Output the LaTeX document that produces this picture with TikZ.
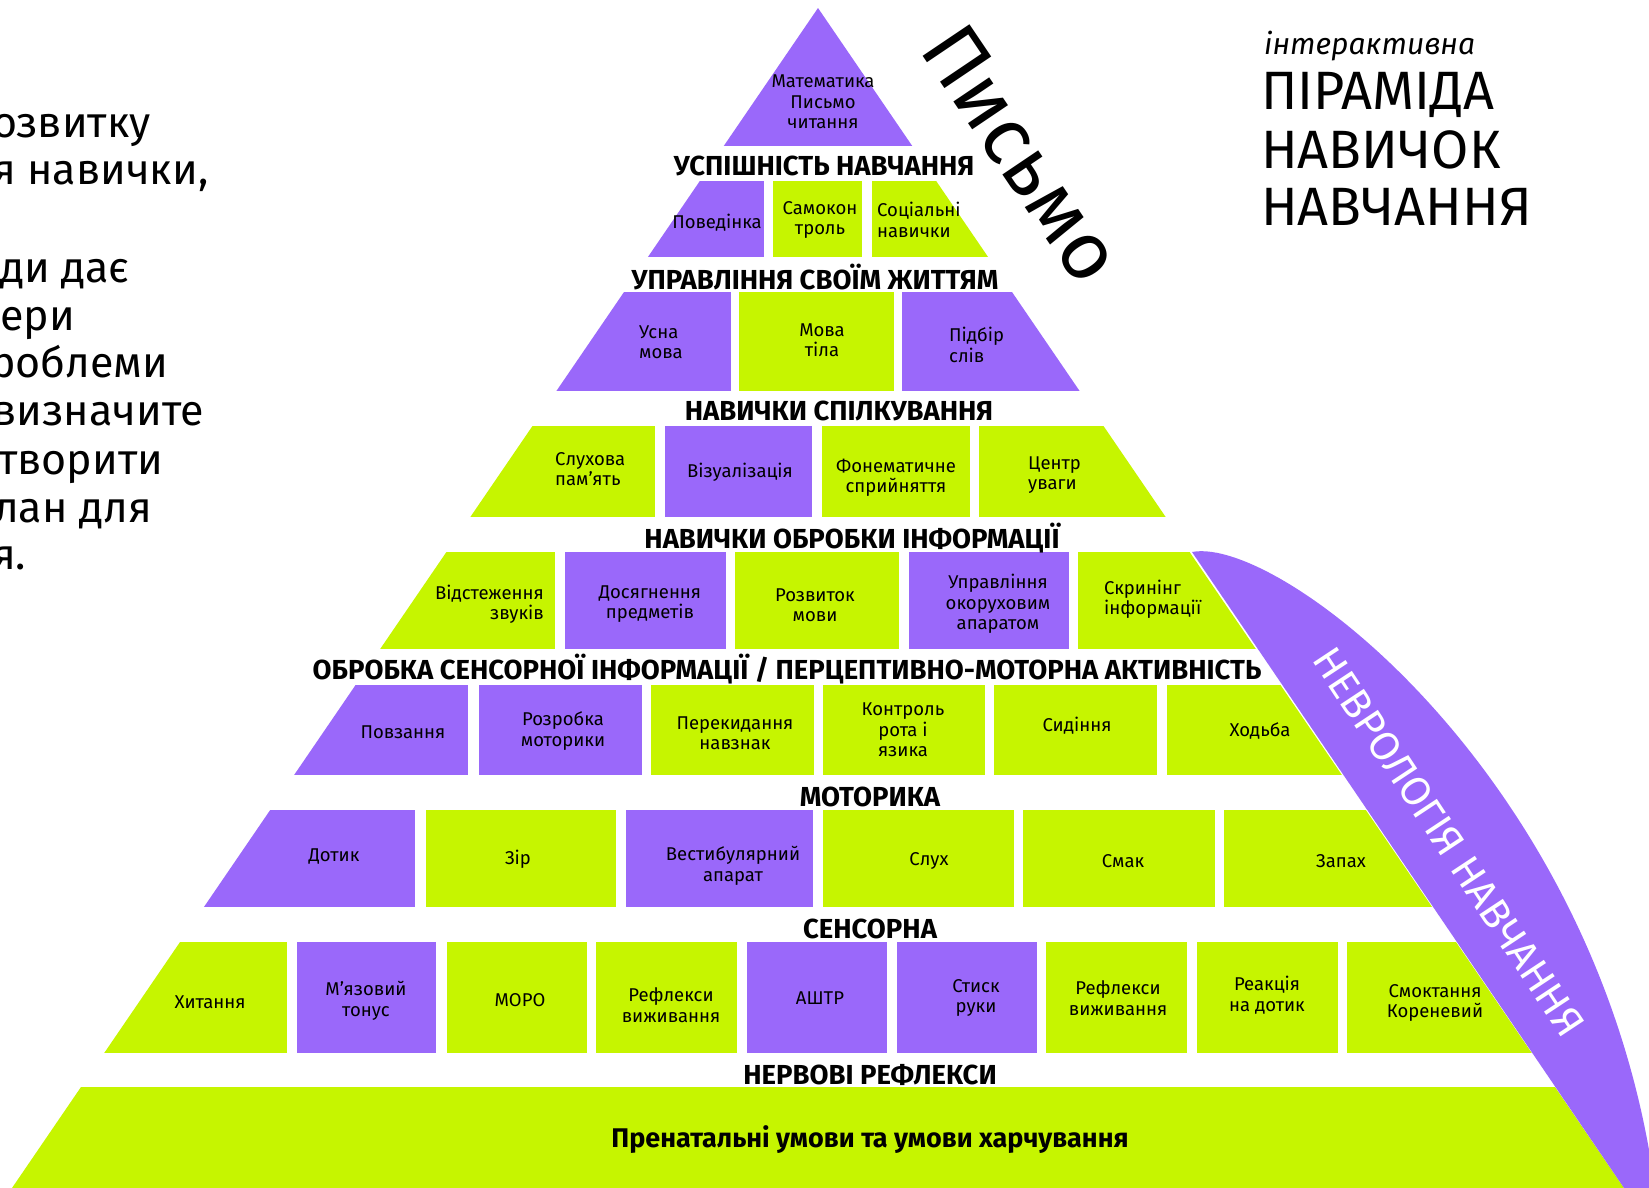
\documentclass[tikz,border=0pt]{standalone}
\usepackage{fontspec}
\setmainfont{Fira Sans}
\definecolor{fiol}{RGB}{154,104,250}
\definecolor{salat}{RGB}{198,245,0}
\tikzset{
  cell/.style={inner sep=0pt, align=center, font=\fontsize{18.5}{20.5}\selectfont},
  rubrika/.style={inner sep=0pt, font=\bfseries\fontsize{27.5}{27.5}\selectfont},
  lozung/.style={anchor=base west, inner sep=0pt, font=\fontsize{43}{43}\selectfont},
  titul/.style={anchor=base west, inner sep=0pt, font=\fontsize{54}{54}\selectfont},
}

\begin{document}
\begin{tikzpicture}[x=1pt, y=-1pt]
\useasboundingbox (0,0) rectangle (1649,1188);

% cut-off text on the left
\foreach \y/\dx/\txt [count=\i] in {138/-8/озвитку, 184/-8/{я навички,}, 282/0/ди дає,
    330/0/ери, 377/-10/роблеми, 425/-8/визначите, 474/-2/творити, 522/-6/лан для, 569/-8/я.}
  \node[lozung] (ryadok\i) at (\dx,\y) {\txt};

% title
\node[anchor=base west, inner sep=0pt, font=\itshape\fontsize{30}{30}\selectfont] (inter) at (1264,55) {інтерактивна};
\node[titul] (piramida) at (1261,110) {ПІРАМІДА};
\node[titul] (navychok) at (1261,168) {НАВИЧОК};
\node[titul] (navchannya) at (1261,225) {НАВЧАННЯ};

% pyramid
\begin{scope}
\clip (818,8) -- (12,1188) -- (1624,1188) -- cycle;
\fill[fiol] (600,8) rectangle (1050,146);
\foreach \a/\b/\c in {500/764/fiol, 773/862/salat, 872/1100/salat}
  \fill[\c] (\a,181) rectangle (\b,257);
\foreach \a/\b/\c in {400/731/fiol, 739/894/salat, 902/1200/fiol}
  \fill[\c] (\a,292) rectangle (\b,391);
\foreach \a/\b/\c in {300/655/salat, 665/812/fiol, 822/970/salat, 979/1300/salat}
  \fill[\c] (\a,426) rectangle (\b,517);
\foreach \a/\b/\c in {200/555/salat, 565/726/fiol, 735/899/salat, 909/1069/fiol, 1078/1400/salat}
  \fill[\c] (\a,552) rectangle (\b,649);
\foreach \a/\b/\c in {100/468/fiol, 479/642/fiol, 651/814/salat, 823/985/salat, 994/1157/salat, 1167/1500/salat}
  \fill[\c] (\a,685) rectangle (\b,775);
\foreach \a/\b/\c in {0/415/fiol, 426/616/salat, 626/813/fiol, 823/1014/salat, 1023/1215/salat, 1224/1600/salat}
  \fill[\c] (\a,810) rectangle (\b,907);
\foreach \a/\b/\c in {0/287/salat, 297/436/fiol, 447/587/salat, 596/737/salat, 747/887/fiol,
    897/1037/fiol, 1046/1187/salat, 1197/1338/salat, 1347/1649/salat}
  \fill[\c] (\a,942) rectangle (\b,1053);
\fill[salat] (0,1087) rectangle (1649,1188);
\end{scope}

% band on the right
\fill[fiol] (1192,552) .. controls (1280,535) and (1600,780) .. (1655,1188) -- (1624,1188) -- cycle;
\node[rotate=-56.5, inner sep=0pt, text=white, font=\fontsize{41}{41}\selectfont] (nevrologiya) at (1449,842) {НЕВРОЛОГІЯ НАВЧАННЯ};
\node[rotate=-56, inner sep=0pt, font=\fontsize{82}{82}\selectfont] (pysmo) at (1022,154) {Письмо};

% headings
\node[rubrika] (usp) at (824,166) {УСПІШНІСТЬ НАВЧАННЯ};
\node[rubrika] (uprav) at (815,277) {УПРАВЛІННЯ СВОЇМ ЖИТТЯМ};
\node[rubrika] (spilk) at (839,411) {НАВИЧКИ СПІЛКУВАННЯ};
\node[rubrika] (obrob) at (852,538) {НАВИЧКИ ОБРОБКИ ІНФОРМАЦІЇ};
\node[rubrika] (sensinf) at (787,669) {ОБРОБКА СЕНСОРНОЇ ІНФОРМАЦІЇ / ПЕРЦЕПТИВНО-МОТОРНА АКТИВНІСТЬ};
\node[rubrika] (motoryka) at (870,797) {МОТОРИКА};
\node[rubrika] (sensorna) at (870,929) {СЕНСОРНА};
\node[rubrika] (refleksy) at (870,1075) {НЕРВОВІ РЕФЛЕКСИ};
\node[rubrika, font=\bfseries\fontsize{27}{27}\selectfont] (prenat) at (870,1140) {Пренатальні умови та умови харчування};

% cells
\node[cell] (matem) at (823,102) {Математика\\Письмо\\читання};

\node[cell] (povedinka) at (717,223) {Поведінка};
\node[cell] (samokon) at (820,220) {Самокон\\троль};
\node[cell, align=left, anchor=west] (social) at (877,220) {Соціальні\\навички};

\node[cell, align=left, anchor=west] (usna) at (639,342) {Усна\\мова};
\node[cell] (tila) at (822,340) {Мова\\тіла};
\node[cell, align=left, anchor=west] (pidbir) at (949,345) {Підбір\\слів};

\node[cell, align=left, anchor=west] (sluhova) at (555,469) {Слухова\\пам'ять};
\node[cell] (vizual) at (740,472) {Візуалізація};
\node[cell] (fonem) at (896,478) {Фонематичне\\сприйняття};
\node[cell, align=left, anchor=west] (centr) at (1028,475) {Центр\\уваги};

\node[cell, align=right, anchor=east] (vidst) at (544,604) {Відстеження\\звуків};
\node[cell] (dosyag) at (650,604) {Досягнення\\предметів};
\node[cell] (rozvytok) at (815,605) {Розвиток\\мови};
\node[cell] (okoruh) at (998,604) {Управління\\окоруховим\\апаратом};
\node[cell, align=left, anchor=west] (skryning) at (1104,599) {Скринінг\\інформації};

\node[cell] (povzannya) at (403,732) {Повзання};
\node[cell] (rozrobka) at (563,731) {Розробка\\моторики};
\node[cell] (perek) at (735,733) {Перекидання\\навзнак};
\node[cell] (kontrol) at (903,730) {Контроль\\рота і\\язика};
\node[cell] (sydinnya) at (1077,726) {Сидіння};
\node[cell] (hodba) at (1260,731) {Ходьба};

\node[cell] (dotyk) at (334,857) {Дотик};
\node[cell] (zir) at (518,859) {Зір};
\node[cell] (vestyb) at (733,866) {Вестибулярний\\апарат};
\node[cell] (sluh) at (929,861) {Слух};
\node[cell] (smak) at (1123,861) {Смак};
\node[cell] (zapah) at (1341,861) {Запах};

\node[cell] (hytannya) at (210,1002) {Хитання};
\node[cell] (myaz) at (366,1001) {М'язовий\\тонус};
\node[cell] (moro) at (520,1000) {МОРО};
\node[cell] (vyzh1) at (671,1005) {Рефлекси\\виживання};
\node[cell] (ashtr) at (820,998) {АШТР};
\node[cell] (stysk) at (976,998) {Стиск\\руки};
\node[cell] (vyzh2) at (1118,998) {Рефлекси\\виживання};
\node[cell] (reakciya) at (1267,995) {Реакція\\на дотик};
\node[cell] (smokt) at (1435,1003) {Смоктання\\Кореневий};
\end{tikzpicture}
\end{document}
